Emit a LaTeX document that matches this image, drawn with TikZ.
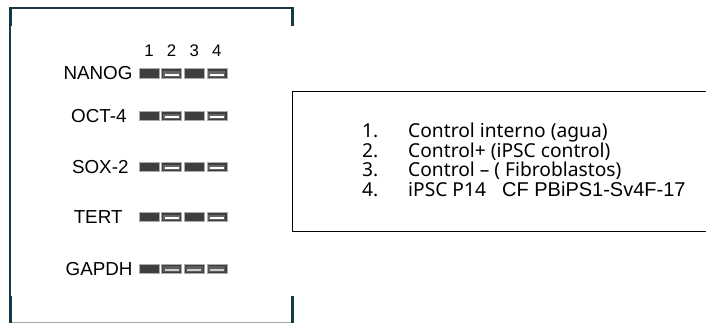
\documentclass[tikz,border=0pt]{standalone}
\usepackage{fontspec}
\setmainfont{Liberation Sans}
\newfontfamily\legendfont{Noto Sans}
\usetikzlibrary{positioning}
\definecolor{framenavy}{HTML}{173848}
\definecolor{gelbg}{HTML}{3E3E3E}
\tikzset{
  lane/.style={draw=gray!65, line width=0.6pt, fill=gelbg, minimum width=20pt, minimum height=9.5pt, inner sep=0pt},
  bright/.style={lane, path picture={
    \fill[gray!60!gelbg] ([shift={(1.5pt,-2.3pt)}]path picture bounding box.north west) rectangle ([shift={(-1.5pt,1.3pt)}]path picture bounding box.south east);
    \fill[white] ([shift={(3pt,-4.8pt)}]path picture bounding box.north west) rectangle ([shift={(-3pt,2.4pt)}]path picture bounding box.south east);}},
  faint/.style={lane, path picture={
    \fill[gray!45!gelbg] ([shift={(1.5pt,-2pt)}]path picture bounding box.north west) rectangle ([shift={(-1.5pt,1.5pt)}]path picture bounding box.south east);
    \fill[gray!40] ([shift={(3pt,-4.5pt)}]path picture bounding box.north west) rectangle ([shift={(-3pt,3pt)}]path picture bounding box.south east);}},
  gene/.style={inner sep=0pt, font=\fontsize{18.8}{20}\selectfont},
  lanenum/.style={inner sep=0pt, font=\fontsize{16.8}{18}\selectfont},
  item/.style={inner sep=0pt, anchor=base west, font=\legendfont\fontsize{19.2}{21}\selectfont},
}
\begin{document}
\begin{tikzpicture}[x=1pt, y=-1pt]
\useasboundingbox (0,0) rectangle (706,323);
% gel frame
\draw[framenavy, line width=2.7pt] (10.7,26) -- (10.7,8) -- (292.3,8) -- (292.3,26);
\draw[framenavy, line width=1.3pt] (10,26) -- (10,296);
\draw[framenavy, line width=2.7pt] (10.7,296) -- (10.7,323) (292.3,296) -- (292.3,323);
\draw[gray!70, line width=1.5pt] (12,322.3) -- (291,322.3);
% bands
\node[lane] (nanog1) at (149,73.5) {}; \node[bright, right=2pt of nanog1] (nanog2) {}; \node[lane, right=2pt of nanog2] (nanog3) {}; \node[bright, right=2pt of nanog3] (nanog4) {};
\node[lane] (oct1) at (149,116) {}; \node[bright, right=2pt of oct1] (oct2) {}; \node[lane, right=2pt of oct2] (oct3) {}; \node[bright, right=2pt of oct3] (oct4) {};
\node[lane] (sox1) at (149,167) {}; \node[bright, right=2pt of sox1] (sox2) {}; \node[lane, right=2pt of sox2] (sox3) {}; \node[bright, right=2pt of sox3] (sox4) {};
\node[lane] (tert1) at (149,217) {}; \node[bright, right=2pt of tert1] (tert2) {}; \node[lane, right=2pt of tert2] (tert3) {}; \node[bright, right=2pt of tert3] (tert4) {};
\node[lane] (gapdh1) at (149,269) {}; \node[faint, right=2pt of gapdh1] (gapdh2) {}; \node[faint, right=2pt of gapdh2] (gapdh3) {}; \node[faint, right=2pt of gapdh3] (gapdh4) {};
% lane numbers and gene names
\node[lanenum, above=12pt of nanog1] (num1) {1};
\node[lanenum, above=12pt of nanog2] (num2) {2};
\node[lanenum, above=12pt of nanog3] (num3) {3};
\node[lanenum, above=12pt of nanog4] (num4) {4};
\node[gene, left=6pt of nanog1] (nanoglbl) {NANOG};
\node[gene, left=12pt of oct1] (octlbl) {OCT-4};
\node[gene, left=10pt of sox1] (soxlbl) {SOX-2};
\node[gene, left=16pt of tert1] (tertlbl) {TERT};
\node[gene, left=6pt of gapdh1] (gapdhlbl) {GAPDH};
% legend
\node[draw, line width=1.2pt, minimum width=430pt, minimum height=140pt, anchor=north west] (legend) at (292,91) {};
\node[item] (key1) at (362,138) {1.};
\node[item] (key2) at (362,157.5) {2.};
\node[item] (key3) at (362,177) {3.};
\node[item] (key4) at (362,196.5) {4.};
\node[item] (text1) at (408,138) {Control interno (agua)};
\node[item] (text2) at (408,157.5) {Control+ (iPSC control)};
\node[item] (text3) at (408,177) {Control – ( Fibroblastos)};
\node[item] (text4) at (408,196.5) {iPSC P14};
\node[item, font=\fontsize{20}{22}\selectfont] (line4) at (502,196.5) {CF PBiPS1-Sv4F-17};
\end{tikzpicture}
\end{document}
